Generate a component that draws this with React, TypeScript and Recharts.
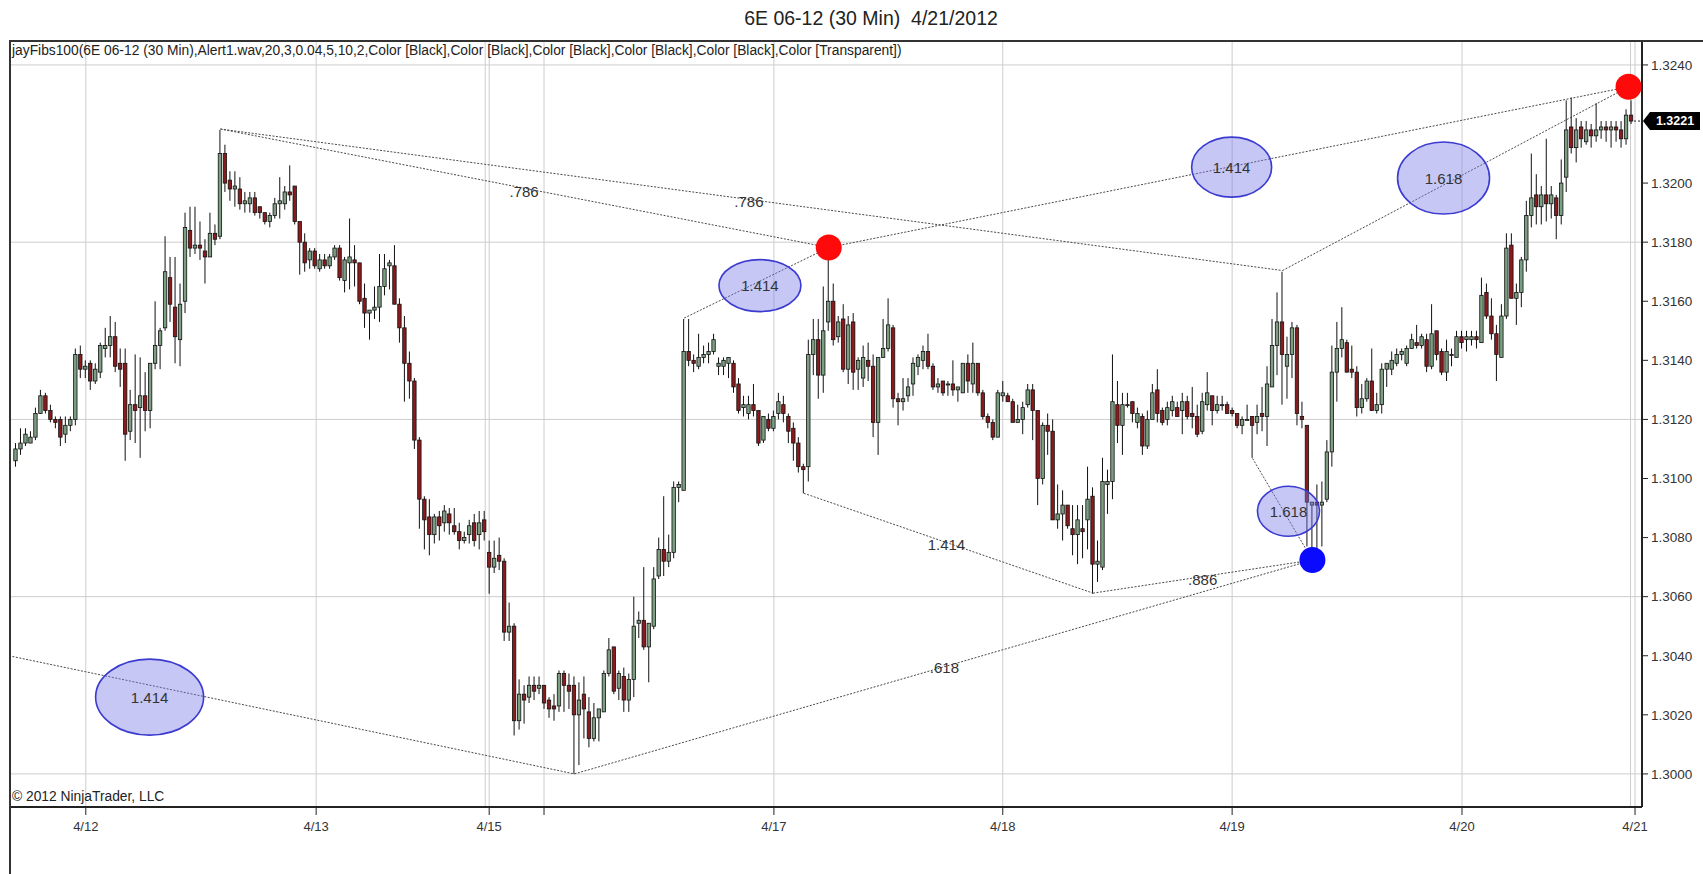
import React from "react";
import {
  ComposedChart,
  Bar,
  XAxis,
  YAxis,
  CartesianGrid,
  ReferenceLine,
  ReferenceDot,
} from "recharts";

const BASE = 1.3;
const PIP = 0.0001;

// 30 min bars as [open, high, low, close], in pips above 1.3000, one array per session
const apr11 = [
  [106, 112, 104, 110], [110, 117, 108, 112], [112, 117, 111, 115], [112, 116, 112, 114],
  [114, 124, 113, 122], [122, 130, 122, 128], [128, 129, 122, 123], [123, 125, 119, 120],
  [120, 121, 117, 119], [120, 121, 111, 114], [115, 121, 112, 118], [118, 121, 116, 120],
  [120, 144, 118, 142], [142, 145, 134, 137],
];
const apr12 = [
  [137, 140, 134, 138], [139, 140, 130, 133], [133, 139, 132, 137], [136, 146, 134, 145],
  [144, 151, 141, 145], [145, 155, 141, 148], [148, 153, 136, 138], [139, 144, 131, 137],
  [139, 144, 106, 115], [116, 130, 113, 125], [125, 142, 112, 123], [124, 141, 107, 128],
  [128, 136, 116, 123], [123, 139, 117, 139], [139, 160, 137, 145], [145, 151, 137, 150],
  [151, 182, 150, 170], [168, 175, 153, 159], [158, 175, 139, 148], [147, 166, 138, 159],
  [160, 190, 156, 185], [184, 192, 175, 178], [178, 192, 176, 179], [179, 187, 174, 178],
  [177, 181, 166, 175], [175, 190, 175, 183], [183, 186, 179, 181], [182, 218, 181, 210],
  [210, 213, 197, 200], [201, 204, 194, 198], [198, 204, 192, 199], [198, 202, 191, 193],
  [193, 197, 190, 194], [193, 197, 190, 195], [195, 197, 189, 190], [192, 192, 188, 190],
  [190, 190, 186, 187], [187, 190, 185, 189], [189, 195, 188, 193], [193, 202, 188, 194],
  [193, 199, 191, 197], [197, 206, 194, 196], [199, 199, 186, 187], [187, 187, 169, 180],
  [180, 183, 170, 173], [174, 178, 171, 177],
];
const apr13 = [
  [177, 178, 171, 172], [171, 176, 170, 174], [174, 176, 171, 172], [172, 176, 171, 175],
  [175, 179, 174, 178], [178, 179, 167, 168], [167, 175, 163, 174], [173, 188, 164, 175],
  [174, 179, 165, 173], [173, 173, 159, 160], [161, 166, 151, 156], [156, 157, 147, 157],
  [157, 165, 154, 158], [158, 176, 153, 165], [165, 176, 162, 171], [172, 174, 164, 173],
  [172, 179, 159, 159], [159, 161, 146, 151], [151, 155, 126, 139], [139, 143, 127, 133],
  [133, 134, 110, 113], [113, 114, 83, 93], [93, 94, 76, 86], [87, 93, 74, 81],
  [81, 88, 78, 87], [87, 89, 79, 84], [85, 91, 82, 89], [88, 90, 81, 85],
  [84, 90, 81, 82], [82, 85, 76, 79], [79, 82, 78, 80], [81, 86, 78, 84],
  [85, 88, 77, 79], [81, 89, 76, 85], [86, 89, 79, 82],
];
const apr15 = [
  [75, 79, 61, 70], [70, 79, 68, 73], [74, 80, 69, 72], [72, 73, 45, 48],
  [48, 58, 45, 50], [50, 51, 13, 18], [18, 32, 15, 27], [27, 30, 17, 25],
  [26, 33, 24, 30], [30, 33, 25, 28], [29, 33, 27, 30],
];
const apr16 = [
  [30, 30, 22, 24], [25, 26, 19, 22], [23, 27, 18, 22], [23, 35, 21, 34],
  [34, 35, 21, 30], [30, 34, 22, 28], [30, 33, 0, 20], [20, 31, 3, 25],
  [27, 33, 12, 22], [21, 26, 9, 12], [12, 24, 11, 19], [19, 22, 11, 22],
  [21, 35, 21, 34], [34, 46, 33, 42], [43, 43, 27, 28], [29, 35, 25, 34],
  [33, 36, 21, 25], [25, 34, 21, 32], [32, 60, 26, 50], [51, 55, 46, 52],
  [52, 70, 42, 43], [43, 51, 31, 51], [50, 70, 49, 66], [67, 80, 66, 76],
  [76, 94, 67, 72], [72, 81, 70, 75], [75, 99, 73, 97], [97, 99, 92, 98],
  [96, 154, 96, 143], [143, 154, 138, 140], [140, 142, 136, 139], [138, 149, 137, 141],
  [141, 145, 139, 142], [142, 146, 139, 143], [143, 149, 142, 147], [138, 141, 135, 139],
  [138, 141, 135, 140], [139, 141, 134, 141], [139, 140, 129, 131], [132, 134, 122, 123],
  [124, 128, 121, 125], [122, 128, 120, 125], [125, 132, 121, 123], [123, 123, 111, 112],
  [113, 121, 112, 121], [120, 122, 116, 117],
];
const apr17 = [
  [117, 123, 116, 121], [122, 129, 120, 126], [125, 128, 119, 122], [121, 122, 112, 116],
  [117, 119, 106, 112], [112, 114, 102, 104], [104, 105, 95, 103], [104, 147, 99, 142],
  [142, 154, 135, 147], [147, 154, 127, 135], [135, 165, 129, 150], [153, 178, 150, 160],
  [160, 166, 145, 147], [148, 155, 146, 153], [154, 159, 136, 137], [137, 155, 132, 152],
  [153, 156, 130, 136], [137, 141, 130, 140], [134, 145, 131, 141], [140, 146, 133, 138],
  [138, 142, 114, 119], [119, 141, 108, 141], [141, 154, 141, 144], [144, 161, 143, 152],
  [151, 152, 124, 127], [127, 129, 118, 126], [126, 134, 123, 127], [128, 134, 126, 131],
  [132, 141, 128, 139], [138, 142, 135, 141], [140, 145, 137, 143], [143, 149, 137, 138],
  [138, 139, 130, 131], [131, 134, 129, 132], [133, 133, 128, 129], [132, 133, 128, 132],
  [132, 140, 128, 130], [130, 131, 126, 131], [129, 139, 129, 139], [139, 142, 129, 133],
  [132, 146, 129, 139], [139, 139, 128, 129], [129, 130, 120, 121], [121, 122, 117, 119],
  [119, 120, 113, 114], [114, 130, 114, 129],
];
const apr18 = [
  [128, 133, 126, 129], [128, 129, 126, 126], [126, 127, 119, 119], [119, 125, 119, 120],
  [120, 126, 115, 124], [125, 132, 124, 130], [130, 132, 113, 123], [123, 123, 91, 100],
  [100, 119, 98, 118], [118, 122, 108, 116], [116, 120, 86, 86], [86, 98, 83, 88],
  [88, 96, 79, 91], [91, 91, 83, 84], [83, 91, 74, 81], [81, 91, 71, 86],
  [83, 91, 73, 82], [86, 104, 76, 93], [94, 97, 61, 71], [71, 79, 65, 72],
  [70, 107, 69, 99], [98, 103, 88, 99], [99, 142, 93, 126], [125, 133, 112, 118],
  [118, 129, 108, 125], [125, 129, 124, 125], [126, 126, 119, 122], [119, 124, 117, 122],
  [121, 122, 108, 111], [111, 123, 110, 120], [120, 132, 120, 129], [130, 137, 119, 122],
  [123, 124, 118, 119], [120, 126, 118, 124], [123, 128, 121, 126], [124, 126, 121, 121],
  [123, 129, 115, 126], [126, 128, 120, 121], [122, 131, 117, 121], [121, 125, 114, 115],
  [116, 129, 115, 126], [125, 136, 123, 129], [128, 128, 118, 123], [123, 128, 122, 125],
  [125, 128, 123, 125], [125, 126, 122, 122],
];
const apr19 = [
  [123, 124, 121, 122], [122, 122, 117, 118], [118, 121, 115, 120], [120, 125, 120, 120],
  [121, 121, 107, 118], [119, 125, 115, 121], [122, 131, 116, 121], [121, 138, 111, 132],
  [131, 154, 131, 145], [145, 163, 135, 153], [153, 170, 125, 142], [138, 148, 127, 142],
  [142, 153, 134, 151], [151, 152, 118, 122], [121, 126, 117, 120], [118, 118, 77, 92],
  [91, 92, 72, 92], [92, 98, 73, 91], [91, 99, 77, 92], [93, 113, 92, 109],
  [109, 145, 104, 136], [136, 153, 126, 144], [144, 158, 141, 147], [146, 147, 136, 136],
  [137, 145, 134, 136], [136, 138, 121, 124], [124, 132, 122, 127], [127, 134, 126, 133],
  [133, 144, 123, 123], [123, 129, 122, 125], [125, 139, 122, 137], [137, 139, 131, 139],
  [137, 143, 135, 140], [139, 144, 138, 142], [142, 144, 140, 143], [139, 145, 138, 144],
  [144, 149, 144, 147], [146, 152, 144, 145], [145, 149, 144, 148], [147, 149, 136, 138],
  [138, 159, 137, 149], [150, 150, 140, 142], [143, 144, 135, 136], [136, 147, 133, 143],
  [142, 144, 138, 142], [141, 150, 141, 148],
];
const apr20 = [
  [148, 150, 144, 146], [147, 150, 143, 148], [147, 150, 145, 148], [148, 150, 144, 147],
  [146, 168, 146, 162], [163, 166, 154, 155], [155, 161, 147, 149], [149, 152, 133, 142],
  [141, 159, 141, 155], [155, 183, 154, 178], [179, 183, 161, 161], [161, 166, 152, 163],
  [163, 175, 158, 174], [174, 194, 170, 189], [189, 210, 185, 195], [196, 203, 186, 192],
  [192, 199, 186, 196], [196, 215, 187, 193], [193, 199, 188, 196], [195, 196, 181, 189],
  [189, 208, 186, 200], [202, 228, 197, 218], [219, 229, 210, 212], [212, 222, 207, 218],
  [219, 221, 212, 215], [214, 221, 213, 218], [218, 220, 212, 216], [216, 227, 214, 218],
  [218, 221, 215, 219], [219, 221, 214, 218], [218, 221, 212, 219], [219, 221, 214, 218],
  [218, 221, 212, 215], [215, 225, 213, 223], [223, 228, 220, 221],
];

const LAST_PRICE = 1.3221;

// x axis (bar index) day separators
const DAY_TICKS = [14, 60.2, 94.9, 105.9, 152, 197.9, 243.9, 290, 324.7];
const DAY_LABELS = ["4/12", "4/13", "4/15", "", "4/17", "4/18", "4/19", "4/20", "4/21"];
const EXTRA_DAY_LINES = [94.1, 323.8];
const PRICE_TICKS = [
  1.3, 1.302, 1.304, 1.306, 1.308, 1.31, 1.312, 1.314, 1.316, 1.318, 1.32, 1.324,
];
const GRID_PRICES = [1.3, 1.306, 1.312, 1.318, 1.324];

// swing points of the fib study: bar index and pips above 1.3000
const PIVOT_X = [41, 163, 254, 323.4, 134, -1.4, 112, 260, 158, 216, 248];
const PIVOT_P = [218.3, 178.2, 170.4, 232.6, 154.3, 40, 0, 72.4, 95, 61.2, 106.8];
const FIB_LINES = [[0, 1], [0, 2], [1, 3], [2, 3], [4, 1], [5, 6], [6, 7], [8, 9], [9, 7], [10, 7]];

const RATIO_TEXT = [".786", ".786", "1.414", "1.618", "1.414", "1.414", ".618", "1.414", ".886", "1.618"];
const RATIO_X = [101.9, 147, 243.8, 286.3, 149.2, 26.8, 186.2, 186.6, 238, 255.2];
const RATIO_P = [197.3, 193.6, 205.4, 201.7, 165.3, 26, 35.9, 77.5, 65.7, 88.9];
// oval size per label, 0 = plain text
const OVAL_RX = [0, 0, 40, 46, 41, 54, 0, 0, 0, 31];
const OVAL_RY = [0, 0, 30, 36, 26, 38, 0, 0, 0, 25];

const RED_DOTS = [1, 3];
const BLUE_DOTS = [7];

const px = (p: number) => BASE + p * PIP;

const bars = [apr11, apr12, apr13, apr15, apr16, apr17, apr18, apr19, apr20]
  .flat()
  .map(([o, h, l, c], i) => ({ i, o: px(o), h: px(h), l: px(l), c: px(c) }));

const FONT = "'Liberation Sans', Arial, sans-serif";
const NARROW = "'Liberation Sans Narrow', 'Arial Narrow', 'Liberation Sans', sans-serif";

function Candle(props: any) {
  const { x, y, width, height, payload } = props;
  const { o, h, l, c } = payload;
  const cx = x + width / 2;
  const top = Math.min(y, y + height);
  const span = Math.abs(height);
  const k = h === l ? 0 : span / (h - l);
  const yo = top + (h - o) * k;
  const yc = top + (h - c) * k;
  const up = c >= o;
  return (
    <g>
      <line x1={cx} x2={cx} y1={top} y2={top + span} stroke="#111" strokeWidth={1} />
      <rect
        x={cx - 1.7}
        y={Math.min(yo, yc)}
        width={3.4}
        height={Math.max(1, Math.abs(yc - yo))}
        fill={up ? "#7c9f82" : "#8a1a1c"}
        stroke="#111"
        strokeWidth={0.8}
      />
    </g>
  );
}

function tickLabel(v: number) {
  const k = DAY_TICKS.findIndex((t) => Math.abs(t - v) < 0.01);
  return k >= 0 ? DAY_LABELS[k] : "";
}

export default function App() {
  return (
    <div
      style={{
        position: "absolute",
        left: 0,
        top: 0,
        width: 1703,
        height: 874,
        background: "#fff",
        overflow: "hidden",
      }}
    >
      <ComposedChart
        width={1703}
        height={874}
        data={bars}
        margin={{ top: 41, right: 0, bottom: 0, left: 9 }}
      >
        <CartesianGrid
          horizontalValues={GRID_PRICES}
          verticalValues={[...DAY_TICKS, ...EXTRA_DAY_LINES]}
          stroke="#cdcdcd"
          strokeWidth={1}
        />
        <XAxis
          dataKey="i"
          type="number"
          domain={[-1.4, 326.1]}
          allowDataOverflow
          ticks={DAY_TICKS}
          tickFormatter={tickLabel}
          interval={0}
          height={67}
          tickSize={8}
          tickMargin={7}
          axisLine={{ stroke: "#222", strokeWidth: 2 }}
          tickLine={{ stroke: "#222" }}
          tick={{ fontSize: 13, fill: "#333", fontFamily: FONT }}
        />
        <YAxis
          orientation="right"
          type="number"
          domain={[1.29888, 1.32481]}
          allowDataOverflow
          ticks={PRICE_TICKS}
          interval={0}
          tickFormatter={(v: number) => v.toFixed(4)}
          width={61}
          tickSize={6}
          tickMargin={3}
          axisLine={{ stroke: "#222", strokeWidth: 2 }}
          tickLine={{ stroke: "#222" }}
          tick={{ fontSize: 13.5, fill: "#333", fontFamily: FONT }}
        />
        <Bar
          dataKey={(d: any) => [d.l, d.h]}
          barSize={4}
          shape={Candle}
          isAnimationActive={false}
        />
        {FIB_LINES.map(([a, b], k) => (
          <ReferenceLine
            key={"f" + k}
            segment={[
              { x: PIVOT_X[a], y: px(PIVOT_P[a]) },
              { x: PIVOT_X[b], y: px(PIVOT_P[b]) },
            ]}
            stroke="#4a4a4a"
            strokeWidth={1}
            strokeDasharray="2 1.5"
            ifOverflow="visible"
          />
        ))}
        <ReferenceLine
          segment={[
            { x: 324.5, y: LAST_PRICE },
            { x: 326.1, y: LAST_PRICE },
          ]}
          stroke="#222"
          strokeDasharray="2 2"
          ifOverflow="visible"
        />
        {RATIO_TEXT.map((t, k) => (
          <ReferenceDot
            key={"r" + k}
            x={RATIO_X[k]}
            y={px(RATIO_P[k])}
            ifOverflow="visible"
            shape={(p: any) => (
              <g>
                {OVAL_RX[k] > 0 && (
                  <ellipse
                    cx={p.cx}
                    cy={p.cy}
                    rx={OVAL_RX[k]}
                    ry={OVAL_RY[k]}
                    fill="rgba(118,122,228,0.42)"
                    stroke="#3b3bd0"
                    strokeWidth={1.6}
                  />
                )}
                <text
                  x={p.cx}
                  y={p.cy}
                  textAnchor="middle"
                  dominantBaseline="central"
                  fontSize={15}
                  fontFamily={FONT}
                  fill="#333"
                >
                  {t}
                </text>
              </g>
            )}
          />
        ))}
        {RED_DOTS.map((k) => (
          <ReferenceDot
            key={"rd" + k}
            x={PIVOT_X[k]}
            y={px(PIVOT_P[k])}
            r={13}
            fill="#ff0a0a"
            stroke="none"
            ifOverflow="visible"
          />
        ))}
        {BLUE_DOTS.map((k) => (
          <ReferenceDot
            key={"bd" + k}
            x={PIVOT_X[k]}
            y={px(PIVOT_P[k])}
            r={13}
            fill="#0a0aff"
            stroke="none"
            ifOverflow="visible"
          />
        ))}
        <ReferenceDot
          x={326.1}
          y={LAST_PRICE}
          ifOverflow="visible"
          shape={(p: any) => (
            <g>
              <polygon
                points={`${p.cx + 1},${p.cy} ${p.cx + 8},${p.cy - 9} ${p.cx + 58},${p.cy - 9} ${p.cx + 58},${p.cy + 9} ${p.cx + 8},${p.cy + 9}`}
                fill="#000"
              />
              <text
                x={p.cx + 33}
                y={p.cy}
                textAnchor="middle"
                dominantBaseline="central"
                fontSize={12.5}
                fontWeight="bold"
                fontFamily={FONT}
                fill="#fff"
              >
                {LAST_PRICE.toFixed(4)}
              </text>
            </g>
          )}
        />
      </ComposedChart>

      <div
        style={{
          position: "absolute",
          left: 9,
          top: 40,
          width: 1694,
          height: 834,
          borderTop: "2px solid #333",
          borderLeft: "2px solid #333",
          boxSizing: "border-box",
          pointerEvents: "none",
        }}
      />
      <div
        style={{
          position: "absolute",
          left: 0,
          width: 1742,
          top: 7,
          textAlign: "center",
          fontFamily: NARROW,
          fontSize: 19.5,
          color: "#222",
          whiteSpace: "pre",
        }}
      >
        {"6E 06-12 (30 Min)  4/21/2012"}
      </div>
      <div
        style={{
          position: "absolute",
          left: 12,
          top: 43,
          fontFamily: NARROW,
          fontSize: 13.8,
          color: "#222",
          whiteSpace: "pre",
        }}
      >
        jayFibs100(6E 06-12 (30 Min),Alert1.wav,20,3,0.04,5,10,2,Color [Black],Color [Black],Color [Black],Color [Black],Color [Black],Color [Transparent])
      </div>
      <div
        style={{
          position: "absolute",
          left: 12,
          top: 789,
          fontFamily: NARROW,
          fontSize: 13.8,
          color: "#222",
          whiteSpace: "pre",
        }}
      >
        © 2012 NinjaTrader, LLC
      </div>
    </div>
  );
}
